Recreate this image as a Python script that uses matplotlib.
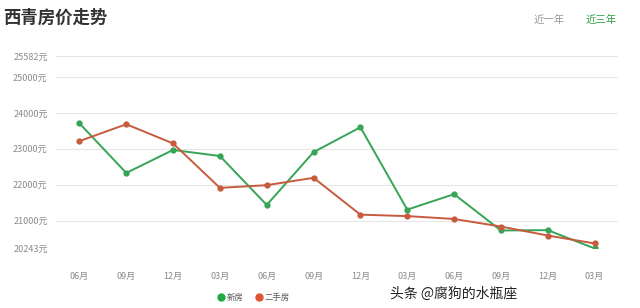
import matplotlib
matplotlib.use("Agg")
import matplotlib.pyplot as plt

plt.rcParams['font.family'] = ['Noto Sans CJK SC', 'DejaVu Sans']

months = ["06月", "09月", "12月", "03月", "06月", "09月", "12月", "03月", "06月", "09月", "12月", "03月"]
new_house = [23710, 22330, 22970, 22800, 21440, 22910, 23600, 21310, 21740, 20730, 20740, 20230]
second_hand = [23215, 23685, 23150, 21915, 21990, 22195, 21170, 21130, 21050, 20840, 20590, 20370]
yticks = [20243, 21000, 22000, 23000, 24000, 25000, 25582]

fig = plt.figure(figsize=(6.4, 3.08), dpi=100)
ax = fig.add_axes([56 / 640, 60 / 308, 562 / 640, 192 / 308])

x = list(range(len(months)))
ax.plot(x, new_house, color="#35a455", lw=1.4, marker="o", ms=3.5, label="新房", zorder=3)
ax.plot(x, second_hand, color="#c85a3e", lw=1.4, marker="o", ms=3.5, label="二手房", zorder=3)

ax.set_xlim(-0.5, 11.5)
ax.set_ylim(yticks[0], yticks[-1])
ax.set_yticks(yticks)
ax.set_yticklabels([f"{v}元" for v in yticks], fontsize=6.5, color="#8a8a8a")
ax.set_xticks(x)
ax.set_xticklabels(months, fontsize=6.5, color="#8a8a8a")
ax.tick_params(length=0, pad=6)
ax.tick_params(axis="x", pad=17)
ax.grid(axis="y", color="#e6e6e6", lw=0.8)
for s in ax.spines.values():
    s.set_visible(False)

fig.text(3 / 640, 1 - 18 / 308, "西青房价走势", fontsize=12.5, fontweight="bold", color="#333333", va="center")
fig.text(549 / 640, 1 - 20 / 308, "近一年", fontsize=7.5, color="#999999", va="center", ha="center")
fig.text(601 / 640, 1 - 20 / 308, "近三年", fontsize=7.5, color="#2f9e4a", va="center", ha="center")

leg = fig.legend(loc="center", bbox_to_anchor=(254 / 640, 1 - 297 / 308), ncol=2, frameon=False,
                 fontsize=6, handlelength=0.6, handletextpad=0.4, columnspacing=1.6,
                 labelcolor="#555555")
for h, c in zip(leg.legend_handles, ["#22aa44", "#dd5533"]):
    h.set_linestyle("none")
    h.set_marker("o")
    h.set_markersize(5)
    h.set_color(c)

fig.text(454 / 640, 1 - 294 / 308, "头条 @腐狗的水瓶座", fontsize=10, color="#222222", va="center", ha="center")

fig.savefig("out.png", dpi=100)
